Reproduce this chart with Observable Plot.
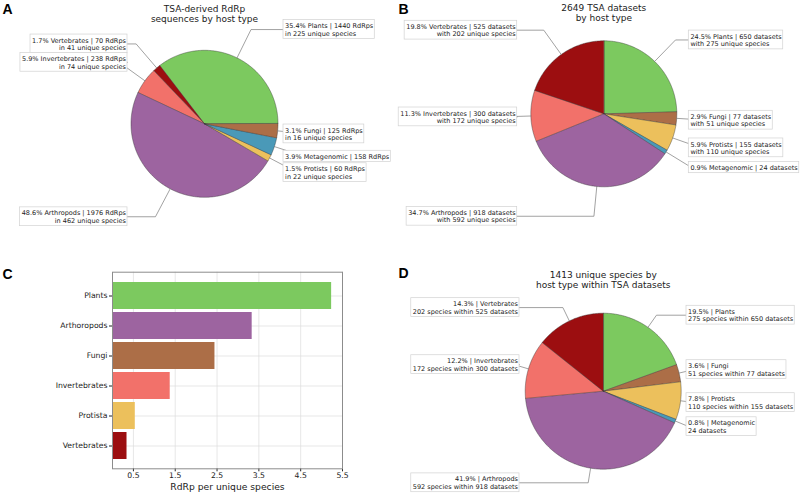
<!DOCTYPE html>
<html><head><meta charset="utf-8">
<script src="https://cdn.jsdelivr.net/npm/d3@7"></script>
<script src="https://cdn.jsdelivr.net/npm/@observablehq/plot@0.6"></script>
<style>
html,body{margin:0;padding:0;background:#fff;}
#root{position:relative;width:800px;height:493px;overflow:hidden;background:#fff;font-family:"DejaVu Sans",sans-serif;}
#root > svg, #root > figure{position:absolute;margin:0;}
</style></head><body><div id="root"></div>
<script>
// ---------- data ----------
// Panel A: TSA-derived RdRp sequences by host type
const rdrpHosts = ["Plants","Vertebrates","Invertebrates","Arthropods","Protists","Metagenomic","Fungi"];
const rdrpCounts = [1440, 70, 238, 1976, 60, 158, 125];
const rdrpSpecies = [225, 41, 74, 462, 22, null, 16];
// Panels B and D: TSA datasets / unique species by host type
const tsaHosts = ["Plants","Fungi","Protists","Metagenomic","Arthropods","Invertebrates","Vertebrates"];
const tsaDatasets = [650, 77, 155, 24, 918, 300, 525];
const tsaSpecies = [275, 51, 110, 11, 592, 172, 202];
// Panel C: RdRp per unique species
const ratioHosts = ["Plants","Arthoropods","Fungi","Invertebrates","Protista","Vertebrates"];
const ratioColorKeys = ["Plants","Arthropods","Fungi","Invertebrates","Protists","Vertebrates"];
const ratioValues = [5.24, 3.34, 2.45, 1.38, 0.545, 0.347];
const ratioTicks = [0.5, 1.5, 2.5, 3.5, 4.5, 5.5];

// ---------- styles ----------
const hostColors = {Plants:"#7CC95F", Arthropods:"#9D64A0", Fungi:"#AC6E47", Invertebrates:"#F2716A",
  Protists:"#ECC05C", Vertebrates:"#9C0E10", Metagenomic:"#4A99B8"};
const TXT = "#222";
const LETTER_FONT = '"Liberation Sans", Arial, sans-serif';
const root = document.getElementById("root");
const ctx = document.createElement("canvas").getContext("2d");
function textWidth(s, fs){ ctx.font = `${fs}px "DejaVu Sans"`; return ctx.measureText(s).width; }
const pct = (v, t) => (v / t * 100).toFixed(1) + "%";

function place(el, left, top){ el.style.left = left + "px"; el.style.top = top + "px"; root.appendChild(el); }

function piePanel({hosts, values, labels, title, letter, startDeg, dir, L}) {
  const {W, H, cx, cy, r, k, dxL, dxR, titleDy, letterDx, letterDy} = L;
  const fs = 6.5, lh = 1.17, padX = 1.6, padY = 1.8;
  const total = d3.sum(values);
  let a = startDeg;
  const slices = hosts.map((h, i) => {
    const span = values[i] / total * 360, a0 = a, a1 = a + dir * span; a = a1;
    return {host: h, a0, a1, mid: (a0 + a1) / 2, label: labels[i]};
  });
  const marks = [];
  for (const s of slices) {
    const pts = [{x: 0, y: 0}];
    const n = Math.max(2, Math.ceil(Math.abs(s.a1 - s.a0) / 0.5));
    for (let j = 0; j <= n; j++) {
      const t = (s.a0 + (s.a1 - s.a0) * j / n) * Math.PI / 180;
      pts.push({x: Math.cos(t), y: Math.sin(t)});
    }
    marks.push(Plot.line(pts, {x: "x", y: "y", curve: "linear-closed", fill: hostColors[s.host],
      stroke: "#333", strokeWidth: 0.5, strokeOpacity: 0.85}));
  }
  const connectors = [], boxes = [], texts = [];
  slices.forEach((s, i) => {
    const m = s.mid * Math.PI / 180, c = Math.cos(m), sn = Math.sin(m);
    const side = c >= 0 ? 1 : -1;
    const ly = k * sn;
    const lines = s.label.split("\n");
    const w = d3.max(lines, l => textWidth(l, fs));
    const h = lines.length * fs * lh + 2 * padY;
    const edge = side > 0 ? dxR / r : -dxL / r;
    connectors.push({id: i, x: c, y: sn}, {id: i, x: k * c, y: k * sn}, {id: i, x: edge, y: ly});
    boxes.push({x1: edge, x2: edge + side * (w + 2 * padX) / r, y1: ly - h / 2 / r, y2: ly + h / 2 / r});
    texts.push({x: edge + side * padX / r, y: ly, t: s.label, anchor: side > 0 ? "start" : "end"});
  });
  marks.push(Plot.line(connectors, {x: "x", y: "y", z: "id", stroke: "#7a7a7a", strokeWidth: 0.7}));
  marks.push(Plot.rect(boxes, {x1: "x1", x2: "x2", y1: "y1", y2: "y2", fill: "white", stroke: "#d2d2d2", strokeWidth: 0.7}));
  marks.push(Plot.text(texts.filter(d => d.anchor === "start"), {x: "x", y: "y", text: "t", textAnchor: "start",
    lineAnchor: "middle", fontSize: fs, lineHeight: lh, fill: TXT}));
  marks.push(Plot.text(texts.filter(d => d.anchor === "end"), {x: "x", y: "y", text: "t", textAnchor: "end",
    lineAnchor: "middle", fontSize: fs, lineHeight: lh, fill: TXT}));
  marks.push(Plot.text([{x: 0, y: cy / r, t: title}], {x: "x", y: "y", text: "t", lineAnchor: "top", dy: titleDy,
    fontSize: 9, lineHeight: 1.18, fill: TXT}));
  marks.push(Plot.text([letter], {frameAnchor: "top-left", dx: letterDx, dy: letterDy, textAnchor: "start",
    lineAnchor: "top", fontSize: 14, fontWeight: "bold", fontFamily: LETTER_FONT, fill: "#000"}));
  return Plot.plot({
    width: W, height: H, margin: 0,
    x: {domain: [-cx / r, (W - cx) / r], axis: null},
    y: {domain: [-(H - cy) / r, cy / r], axis: null},
    style: {fontFamily: '"DejaVu Sans", sans-serif', background: "transparent", overflow: "visible"},
    marks
  });
}

// ---------- Panel A ----------
const totA = d3.sum(rdrpCounts);
const labelsA = rdrpHosts.map((h, i) => `${pct(rdrpCounts[i], totA)} ${h} | ${rdrpCounts[i]} RdRps` +
  (rdrpSpecies[i] != null ? `\nin ${rdrpSpecies[i]} unique species` : ""));
place(piePanel({hosts: rdrpHosts, values: rdrpCounts, labels: labelsA,
  title: "TSA-derived RdRp\nsequences by host type", letter: "A", startDeg: 0, dir: 1,
  L: {W: 400, H: 246, cx: 204, cy: 123.3, r: 73.5, k: 1.43, dxL: 77, dxR: 79, titleDy: 3.5, letterDx: 2, letterDy: 4}}), 0, 0);

// ---------- Panel B ----------
const totB = d3.sum(tsaDatasets);
const labelsB = tsaHosts.map((h, i) => `${pct(tsaDatasets[i], totB)} ${h} | ${tsaDatasets[i]} datasets` +
  (h !== "Metagenomic" ? `\nwith ${tsaSpecies[i]} unique species` : ""));
place(piePanel({hosts: tsaHosts, values: tsaDatasets, labels: labelsB,
  title: `${totB} TSA datasets\nby host type`, letter: "B", startDeg: 90, dir: -1,
  L: {W: 400, H: 246, cx: 203.3, cy: 113.3, r: 73, k: 1.41, dxL: 86.6, dxR: 85, titleDy: 2.5, letterDx: -2, letterDy: 4}}), 400, 0);

// ---------- Panel D ----------
const totD = d3.sum(tsaSpecies);
const labelsD = tsaHosts.map((h, i) => `${pct(tsaSpecies[i], totD)} | ${h}\n` +
  (h !== "Metagenomic" ? `${tsaSpecies[i]} species within ${tsaDatasets[i]} datasets` : `${tsaDatasets[i]} datasets`));
place(piePanel({hosts: tsaHosts, values: tsaSpecies, labels: labelsD,
  title: `${totD} unique species by\nhost type within TSA datasets`, letter: "D", startDeg: 90, dir: -1,
  L: {W: 400, H: 247, cx: 202.7, cy: 144.7, r: 78, k: 1.19, dxL: 83.7, dxR: 83.3, titleDy: 23.5, letterDx: -2, letterDy: 22}}), 400, 246);

// ---------- Panel C ----------
const ratioRows = ratioHosts.map((h, i) => ({host: h, value: ratioValues[i], color: hostColors[ratioColorKeys[i]]}));
const plotC = Plot.plot({
  width: 400, height: 247, marginLeft: 112, marginRight: 58, marginTop: 25.7, marginBottom: 24.7,
  style: {fontFamily: '"DejaVu Sans", sans-serif', fontSize: "7.7px", color: TXT, background: "transparent", overflow: "visible"},
  x: {domain: [0, 5.5]},
  y: {domain: ratioHosts, paddingInner: 0.1, paddingOuter: 0.3},
  color: {type: "identity"},
  marks: [
    Plot.gridX(ratioTicks, {stroke: "#dcdcdc", strokeOpacity: 1, strokeWidth: 0.7}),
    Plot.gridY({stroke: "#dcdcdc", strokeOpacity: 1, strokeWidth: 0.7}),
    Plot.barX(ratioRows, {x: "value", y: "host", fill: "color"}),
    Plot.axisX({ticks: ratioTicks, tickSize: 3, tickPadding: 1, label: null, tickFormat: d => d.toFixed(1)}),
    Plot.axisY({tickSize: 3, tickPadding: 2, label: null}),
    Plot.frame({stroke: "#8c8c8c", strokeWidth: 1}),
    Plot.text(["RdRp per unique species"], {frameAnchor: "bottom", dy: 18, fontSize: 9.2, lineAnchor: "middle", fill: TXT}),
    Plot.text(["C"], {frameAnchor: "top-left", dx: -110, dy: -3.5, textAnchor: "start", lineAnchor: "top",
      fontSize: 14, fontWeight: "bold", fontFamily: LETTER_FONT, fill: "#000"})
  ]
});
place(plotC, 0, 246);
</script></body></html>
